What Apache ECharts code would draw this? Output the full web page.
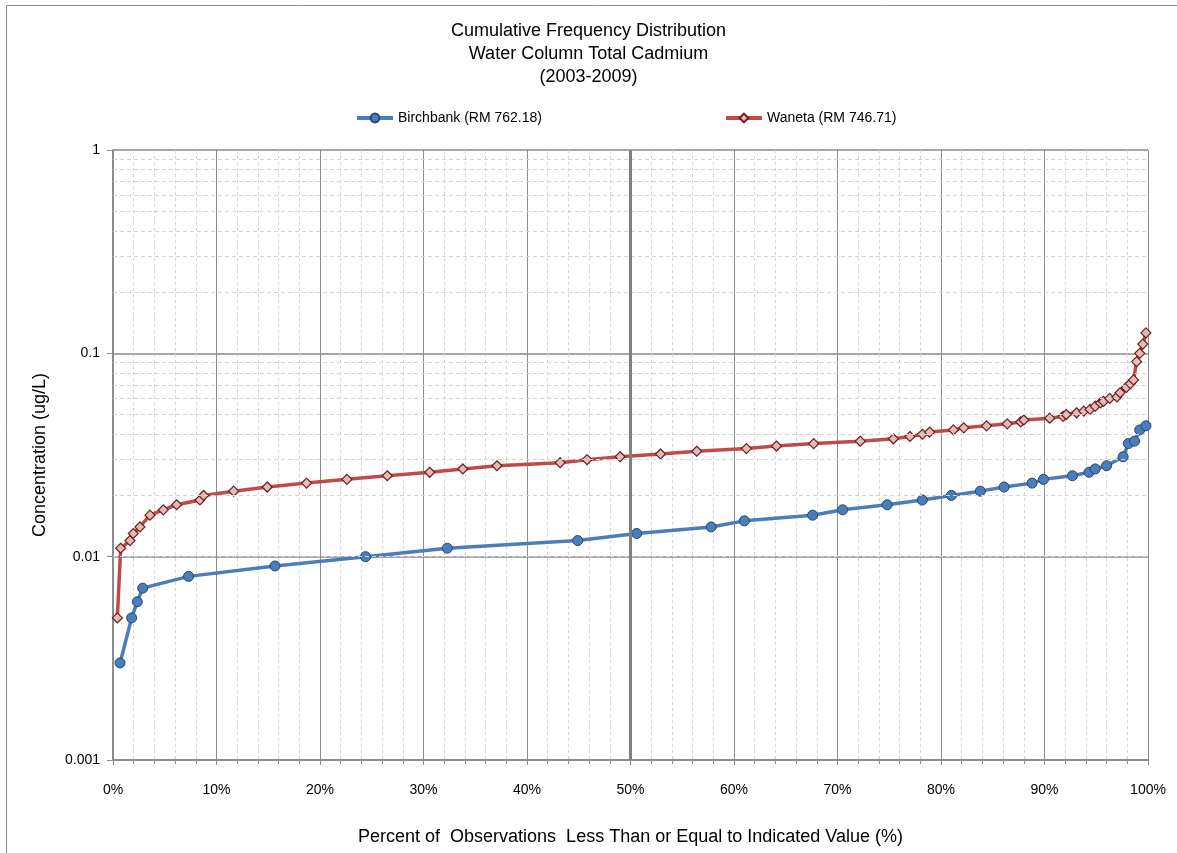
<!DOCTYPE html>
<html><head><meta charset="utf-8">
<script src="https://cdn.jsdelivr.net/npm/echarts@6/dist/echarts.min.js"></script>
<style>html,body{margin:0;padding:0;background:#fff}#c{width:1177px;height:853px}</style>
</head><body><div id="c"></div>
<script>
const titleLines = ['Cumulative Frequency Distribution', 'Water Column Total Cadmium', '(2003-2009)'];
const seriesNames = ['Birchbank (RM 762.18)', 'Waneta (RM 746.71)'];
const xTickValues = [0,10,20,30,40,50,60,70,80,90,100];
const yTickLabels = ['0.001','0.01','0.1','1'];
const minorYLines = [0.002,0.003,0.004,0.005,0.006,0.007,0.008,0.009,0.02,0.03,0.04,0.05,0.06,0.07,0.08,0.09,0.2,0.3,0.4,0.5,0.6,0.7,0.8,0.9];

const birchPct = [0.68,1.8,2.35,2.87,7.3,15.65,24.4,32.3,44.9,50.6,57.8,61.0,67.6,70.5,74.8,78.2,81.0,83.8,86.1,88.8,89.9,92.7,94.3,94.9,96.0,97.6,98.1,98.7,99.2,99.8];
const birchVal = [0.003,0.005,0.006,0.007,0.008,0.009,0.010,0.011,0.012,0.013,0.014,0.015,0.016,0.017,0.018,0.019,0.020,0.021,0.022,0.023,0.024,0.025,0.026,0.027,0.028,0.031,0.036,0.037,0.042,0.044];

const wanetaPct = [0.42,0.74,1.64,1.96,2.6,3.57,4.86,6.15,8.4,8.76,11.66,14.9,18.7,22.6,26.5,30.6,33.8,37.1,43.2,45.8,49.0,52.9,56.4,61.2,64.1,67.7,72.2,75.4,77.0,78.2,78.9,81.2,82.2,84.4,86.4,87.7,88.0,90.5,91.8,92.1,93.1,93.8,94.4,94.9,95.4,95.7,96.3,97.0,97.3,97.9,98.3,98.6,98.9,99.2,99.5,99.8];
const wanetaVal = [0.005,0.011,0.012,0.013,0.014,0.016,0.017,0.018,0.019,0.020,0.021,0.022,0.023,0.024,0.025,0.026,0.027,0.028,0.029,0.030,0.031,0.032,0.033,0.034,0.035,0.036,0.037,0.038,0.039,0.040,0.041,0.042,0.043,0.044,0.045,0.046,0.047,0.048,0.049,0.050,0.051,0.052,0.053,0.055,0.057,0.058,0.060,0.061,0.064,0.068,0.071,0.074,0.091,0.100,0.111,0.126];

const FONT = '"Liberation Sans", Arial, sans-serif';
const chart = echarts.init(document.getElementById('c'), null, {renderer: 'canvas'});
chart.setOption({
  backgroundColor: '#fff',
  animation: false,
  textStyle: {fontFamily: FONT},
  graphic: [{type: 'rect', left: 4, top: 3, shape: {width: 1200, height: 900}, style: {fill: 'none', stroke: '#8c8c8c', lineWidth: 1}, silent: true, z: -1}],
  title: {
    text: titleLines.join('\n'), left: 'center', top: 15,
    textStyle: {fontFamily: FONT, fontSize: 18, fontWeight: 'normal', color: '#000', lineHeight: 23}
  },
  legend: {
    left: 350, top: 106, itemGap: 182, itemWidth: 36, itemHeight: 11,
    lineStyle: {width: 4},
    textStyle: {fontFamily: FONT, fontSize: 14, color: '#000'},
    data: seriesNames
  },
  grid: {left: 113, right: 29, top: 150, bottom: 93, containLabel: false},
  xAxis: {
    type: 'value', min: 0, max: 100, interval: 10,
    name: 'Percent of  Observations  Less Than or Equal to Indicated Value (%)',
    nameLocation: 'middle', nameGap: 68,
    nameTextStyle: {fontFamily: FONT, fontSize: 18, color: '#000'},
    axisLine: {show: true, lineStyle: {color: '#8c8c8c', width: 2}},
    axisTick: {show: true, length: 5, lineStyle: {color: '#8c8c8c'}},
    minorTick: {show: true, splitNumber: 5, length: 4, lineStyle: {color: '#8c8c8c'}},
    axisLabel: {formatter: v => v + '%', fontFamily: FONT, fontSize: 14, color: '#000', margin: 23},
    splitLine: {show: true, lineStyle: {color: '#8c8c8c', width: 1}},
    minorSplitLine: {show: true, lineStyle: {color: '#d4d4d4', width: 1, type: [3, 3]}}
  },
  yAxis: {
    type: 'log', logBase: 10, min: 0.001, max: 1,
    name: 'Concentration (ug/L)', nameLocation: 'middle', nameGap: 64, nameRotate: 90,
    nameTextStyle: {fontFamily: FONT, fontSize: 18, color: '#000'},
    axisLine: {show: true, lineStyle: {color: '#8c8c8c', width: 2}},
    axisTick: {show: true, length: 6, lineStyle: {color: '#8c8c8c'}},
    axisLabel: {
      fontFamily: FONT, fontSize: 14, color: '#000', margin: 13,
      formatter: v => { const l = Math.round(Math.log10(v)) + 3; return yTickLabels[l] !== undefined ? yTickLabels[l] : String(v); }
    },
    splitLine: {show: true, lineStyle: {color: '#a6a6a6', width: 2}}
  },
  series: [
    {
      name: 'minor-grid', type: 'line', data: [], silent: true, legendHoverLink: false,
      markLine: {
        silent: true, symbol: 'none', label: {show: false},
        lineStyle: {color: '#d4d4d4', width: 1, type: [4, 3]},
        data: minorYLines.map(v => ({yAxis: v}))
      }
    },
    {
      name: 'center-line', type: 'line', data: [], silent: true,
      markLine: {
        silent: true, symbol: 'none', label: {show: false},
        lineStyle: {color: '#808080', width: 3, type: 'solid'},
        data: [{xAxis: 50}]
      }
    },
    {
      name: seriesNames[0], type: 'line', z: 3,
      data: birchPct.map((p, i) => [p, birchVal[i]]),
      symbol: 'circle', symbolSize: 10,
      lineStyle: {color: '#4a7ebb', width: 3.5},
      itemStyle: {color: '#4a7ebb', borderColor: '#24466f', borderWidth: 1}
    },
    {
      name: seriesNames[1], type: 'line', z: 4,
      data: wanetaPct.map((p, i) => [p, wanetaVal[i]]),
      symbol: 'diamond', symbolSize: 10,
      lineStyle: {color: '#be4b48', width: 3.5},
      itemStyle: {color: '#e6b9b8', borderColor: '#6b1f1d', borderWidth: 1.2}
    }
  ]
});
</script></body></html>
